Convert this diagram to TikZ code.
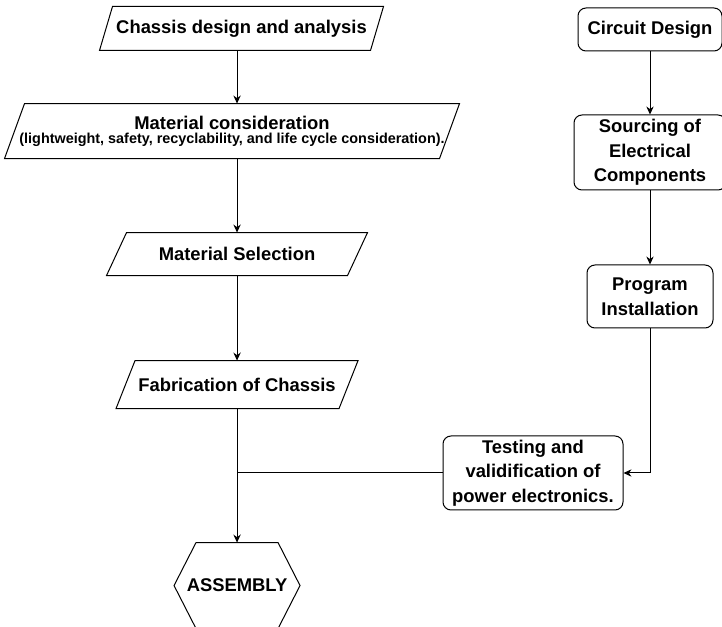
\documentclass[tikz,border=0pt]{standalone}
\usepackage{fontspec}
\setmainfont{Liberation Sans}
\usetikzlibrary{arrows.meta}

\begin{document}
\begin{tikzpicture}[x=0.75pt, y=-0.75pt, line width=0.75pt, >={Stealth[length=6pt,width=5.5pt]},
        font=\bfseries\fontsize{13.8}{18.4}\selectfont,
        para/.style = {inner sep=0pt, align=center, append after command={\pgfextra{
            \draw ([xshift=#1]\tikzlastnode.north west) -- (\tikzlastnode.north east)
                -- ([xshift=-#1]\tikzlastnode.south east) -- (\tikzlastnode.south west) -- cycle;}}},
        box/.style = {draw, rectangle, rounded corners=6pt, inner sep=0pt, align=center},
        hexa/.style = {inner sep=0pt, append after command={\pgfextra{
            \draw (\tikzlastnode.west) -- ([xshift=#1]\tikzlastnode.north west) -- ([xshift=-#1]\tikzlastnode.north east)
                -- (\tikzlastnode.east) -- ([xshift=-#1]\tikzlastnode.south east) -- ([xshift=#1]\tikzlastnode.south west) -- cycle;}}}]
        \useasboundingbox (0,0) rectangle (722,627);

        % left column
        \node[para=9.75pt, minimum width=212.25pt, minimum height=32.25pt] (chassis) at (241.5,28.5) {Chassis design and analysis};
        \node[para=15pt, minimum width=340.5pt, minimum height=40.5pt] (matcon) [below of = chassis, node distance=76.9pt, xshift=-7.1pt]
            {Material consideration\\[-8pt]{\fontsize{10.8}{12}\selectfont (lightweight, safety, recyclability, and life cycle consideration).}};
        \node[para=15pt, minimum width=195pt, minimum height=31.5pt] (matsel) [below of = matcon, node distance=92.25pt, xshift=3.75pt] {Material Selection};
        \node[para=14.25pt, minimum width=180.75pt, minimum height=35.25pt] (fab) [below of = matsel, node distance=97.9pt] {Fabrication of Chassis};
        \node[hexa=16.5pt, minimum width=93.75pt, minimum height=63.75pt] (asm) [below of = fab, node distance=150.75pt] {ASSEMBLY};

        % right column
        \node[box, minimum width=108pt, minimum height=32.25pt] (circ) at (650,29.5) {Circuit Design};
        \node[box, minimum width=114pt, minimum height=56.25pt] (src) [below of = circ, node distance=92.25pt] {Sourcing of\\Electrical\\Components};
        \node[box, minimum width=94.5pt, minimum height=47.25pt] (prog) [below of = src, node distance=108pt] {Program\\Installation};
        \node[box, minimum width=135pt, minimum height=55.5pt] (test) at (533,473) {Testing and\\validification of\\power electronics.};

        \draw[->] (chassis.south -| matsel.north) -- (matcon.north -| matsel.north);
        \draw[->] (matcon.south -| matsel.north) -- (matsel.north);
        \draw[->] (matsel) -- (fab);
        \draw[->] (fab) -- (asm);
        \draw (test.west) -- (test.west -| fab.south);
        \draw[->] (circ) -- (src);
        \draw[->] (src) -- (prog);
        \draw[->] (prog.south) |- (test.east);
    \end{tikzpicture}
\end{document}
